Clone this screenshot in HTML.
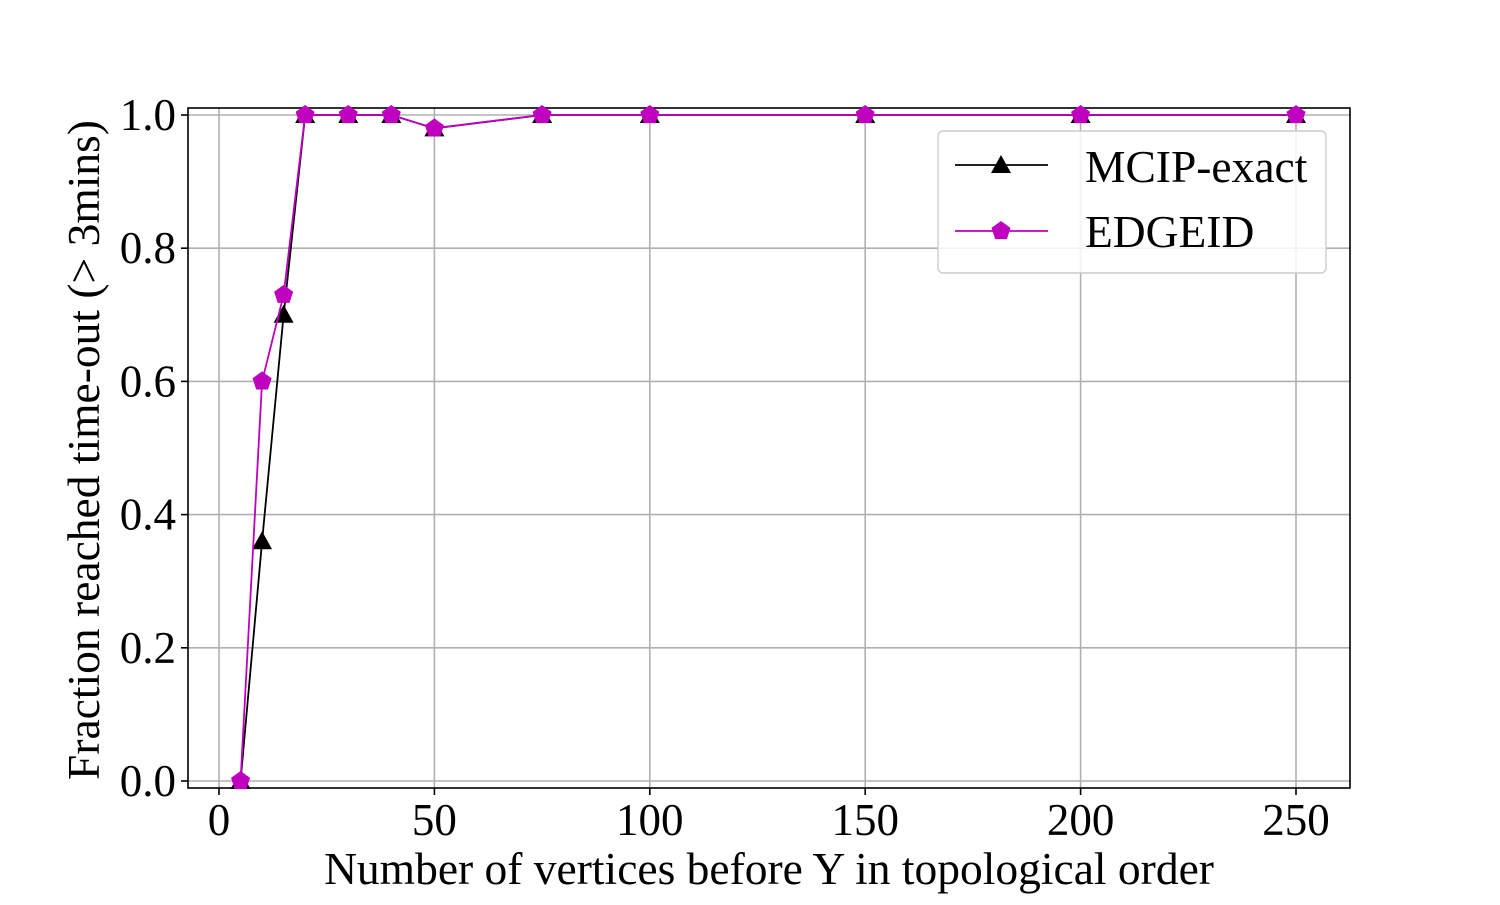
<!DOCTYPE html>
<html><head><meta charset="utf-8"><style>
body{margin:0;background:#fff}
svg text{font-family:"Liberation Serif",serif;fill:#000}
</style></head><body>
<svg width="1500" height="900" id="c"></svg>
<script>
const xs=[5,10,15,20,30,40,50,75,100,150,200,250];
const mcip=[0,0.36,0.70,1,1,1,0.98,1,1,1,1,1];
const edgeid=[0,0.60,0.73,1,1,1,0.98,1,1,1,1,1];
const xTicks=[0,50,100,150,200,250];
const yTicks=[0,0.2,0.4,0.6,0.8,1.0];
const L=188,R=1350,T=108,B=788;
const X=v=>219+v*(1296-219)/250;
const Y=v=>781-v*(781-115);
const s=document.getElementById('c');
const NS='http://www.w3.org/2000/svg';
function mk(t,a,p){const e=document.createElementNS(NS,t);for(const k in a)e.setAttribute(k,a[k]);(p||s).appendChild(e);return e;}
mk('rect',{x:0,y:0,width:1500,height:900,fill:'#fff'});
xTicks.forEach(t=>{
 const g=mk('line',{x1:X(t),x2:X(t),y1:T,y2:B,stroke:'#b0b0b0','stroke-width':1.6});
 
 
 mk('line',{x1:X(t),x2:X(t),y1:B,y2:B+7,stroke:'#000','stroke-width':1.6});
 const tx=mk('text',{x:X(t),y:835,'font-size':45,'text-anchor':'middle'});tx.textContent=t;
 
 
});
yTicks.forEach(t=>{
 const g=mk('line',{x1:L,x2:R,y1:Y(t),y2:Y(t),stroke:'#b0b0b0','stroke-width':1.6});
 
 
 mk('line',{x1:L-7,x2:L,y1:Y(t),y2:Y(t),stroke:'#000','stroke-width':1.6});
 const tx=mk('text',{x:L-12,y:Y(t)+15,'font-size':45,'text-anchor':'end'});tx.textContent=t.toFixed(1);
 
 
});
const fr=mk('rect',{x:L,y:T,width:R-L,height:B-T,fill:'none',stroke:'#000','stroke-width':1.6});


function tri(x,y,p){return mk('polygon',{points:`${x},${y-10} ${x-10},${y+8} ${x+10},${y+8}`,fill:'#000'},p);}
function pent(x,y,c,p){let pts=[];for(let i=0;i<5;i++){const a=-Math.PI/2+i*2*Math.PI/5;pts.push((x+10*Math.cos(a))+','+(y+10*Math.sin(a)));}return mk('polygon',{points:pts.join(' '),fill:c},p);}
const g1=mk('g',{});


mk('polyline',{points:xs.map((x,i)=>X(x)+','+Y(mcip[i])).join(' '),fill:'none',stroke:'#000','stroke-width':1.8},g1);
xs.forEach((x,i)=>{const m=tri(X(x),Y(mcip[i]),g1);});
const g2=mk('g',{});


mk('polyline',{points:xs.map((x,i)=>X(x)+','+Y(edgeid[i])).join(' '),fill:'none',stroke:'#bf00bf','stroke-width':1.8},g2);
xs.forEach((x,i)=>{const m=pent(X(x),Y(edgeid[i]),'#bf00bf',g2);});
const lg=mk('g',{});


mk('rect',{x:938,y:131,width:388,height:142,rx:5,fill:'#fff','fill-opacity':0.85,stroke:'#ccc','stroke-width':1.4},lg);
mk('line',{x1:955,x2:1048,y1:165,y2:165,stroke:'#000','stroke-width':1.8},lg);tri(1001,165,lg);
let t1=mk('text',{x:1085,y:182,'font-size':45.5},lg);t1.textContent='MCIP-exact';
mk('line',{x1:955,x2:1048,y1:231,y2:231,stroke:'#bf00bf','stroke-width':1.8},lg);pent(1001,231,'#bf00bf',lg);
let t2=mk('text',{x:1085,y:247,'font-size':45.5},lg);t2.textContent='EDGEID';
const xl=mk('text',{x:769,y:884,'font-size':45.5,'text-anchor':'middle'});xl.textContent='Number of vertices before Y in topological order';


const yl=mk('text',{x:0,y:0,'font-size':45.5,'text-anchor':'middle',transform:'translate(99,450) rotate(-90)'});yl.textContent='Fraction reached time-out (> 3mins)';


</script>
</body></html>
